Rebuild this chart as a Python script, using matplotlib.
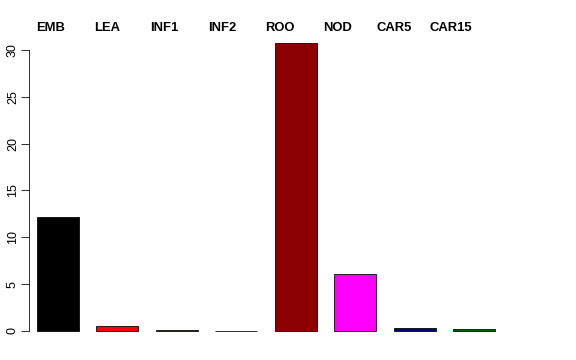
import matplotlib
matplotlib.use("Agg")
import matplotlib.pyplot as plt

samples = ["EMB", "LEA", "INF1", "INF2", "ROO", "NOD", "CAR5", "CAR15"]
values = [12.2, 0.5, 0.1, 0.05, 30.7, 6.1, 0.3, 0.2]
colors = ["black", "red", "darkolivegreen", "slategray", "darkred", "magenta", "navy", "darkgreen"]
yticks = [0, 5, 10, 15, 20, 25, 30]

plt.rcParams['font.family'] = ['Liberation Sans', 'DejaVu Sans']

W, H = 576, 360
fig = plt.figure(figsize=(8, 5), dpi=72)

# plot region in pixels (left, top, right, bottom)
L, T, R, B = 29, 32, 540, 343
ax = fig.add_axes([L / W, 1 - B / H, (R - L) / W, (B - T) / H])

step = 59.43
bw = 42 / step
pos = list(range(len(samples)))
ax.bar(pos, values, width=bw, color=colors, edgecolor="black", linewidth=0.8)

# y scale: 0 -> px 331, 30 -> px 50
ppu = (331 - 50) / 30
ax.set_ylim(-(B - 331) / ppu, (331 - T) / ppu)
x0 = -bw / 2 - (37 - L) / step
ax.set_xlim(x0, x0 + (R - L) / step)

for s in ["top", "right", "bottom"]:
    ax.spines[s].set_visible(False)
ax.spines["left"].set_bounds(0, 30)
ax.spines["left"].set_linewidth(0.8)
ax.set_xticks([])
ax.set_yticks(yticks)
ax.set_yticklabels([str(t) for t in yticks], rotation=90, va="center", fontsize=12.5)
ax.tick_params(axis="y", length=8, width=0.8, pad=2)

# sample names across the top
label_x = [51, 107, 164, 222, 280, 337, 394, 451]
for name, lx in zip(samples, label_x):
    fig.text(lx / W, 1 - 28 / H, name, ha="center", va="center",
             fontsize=13, fontweight="bold")

fig.savefig("out.png", dpi=72)
